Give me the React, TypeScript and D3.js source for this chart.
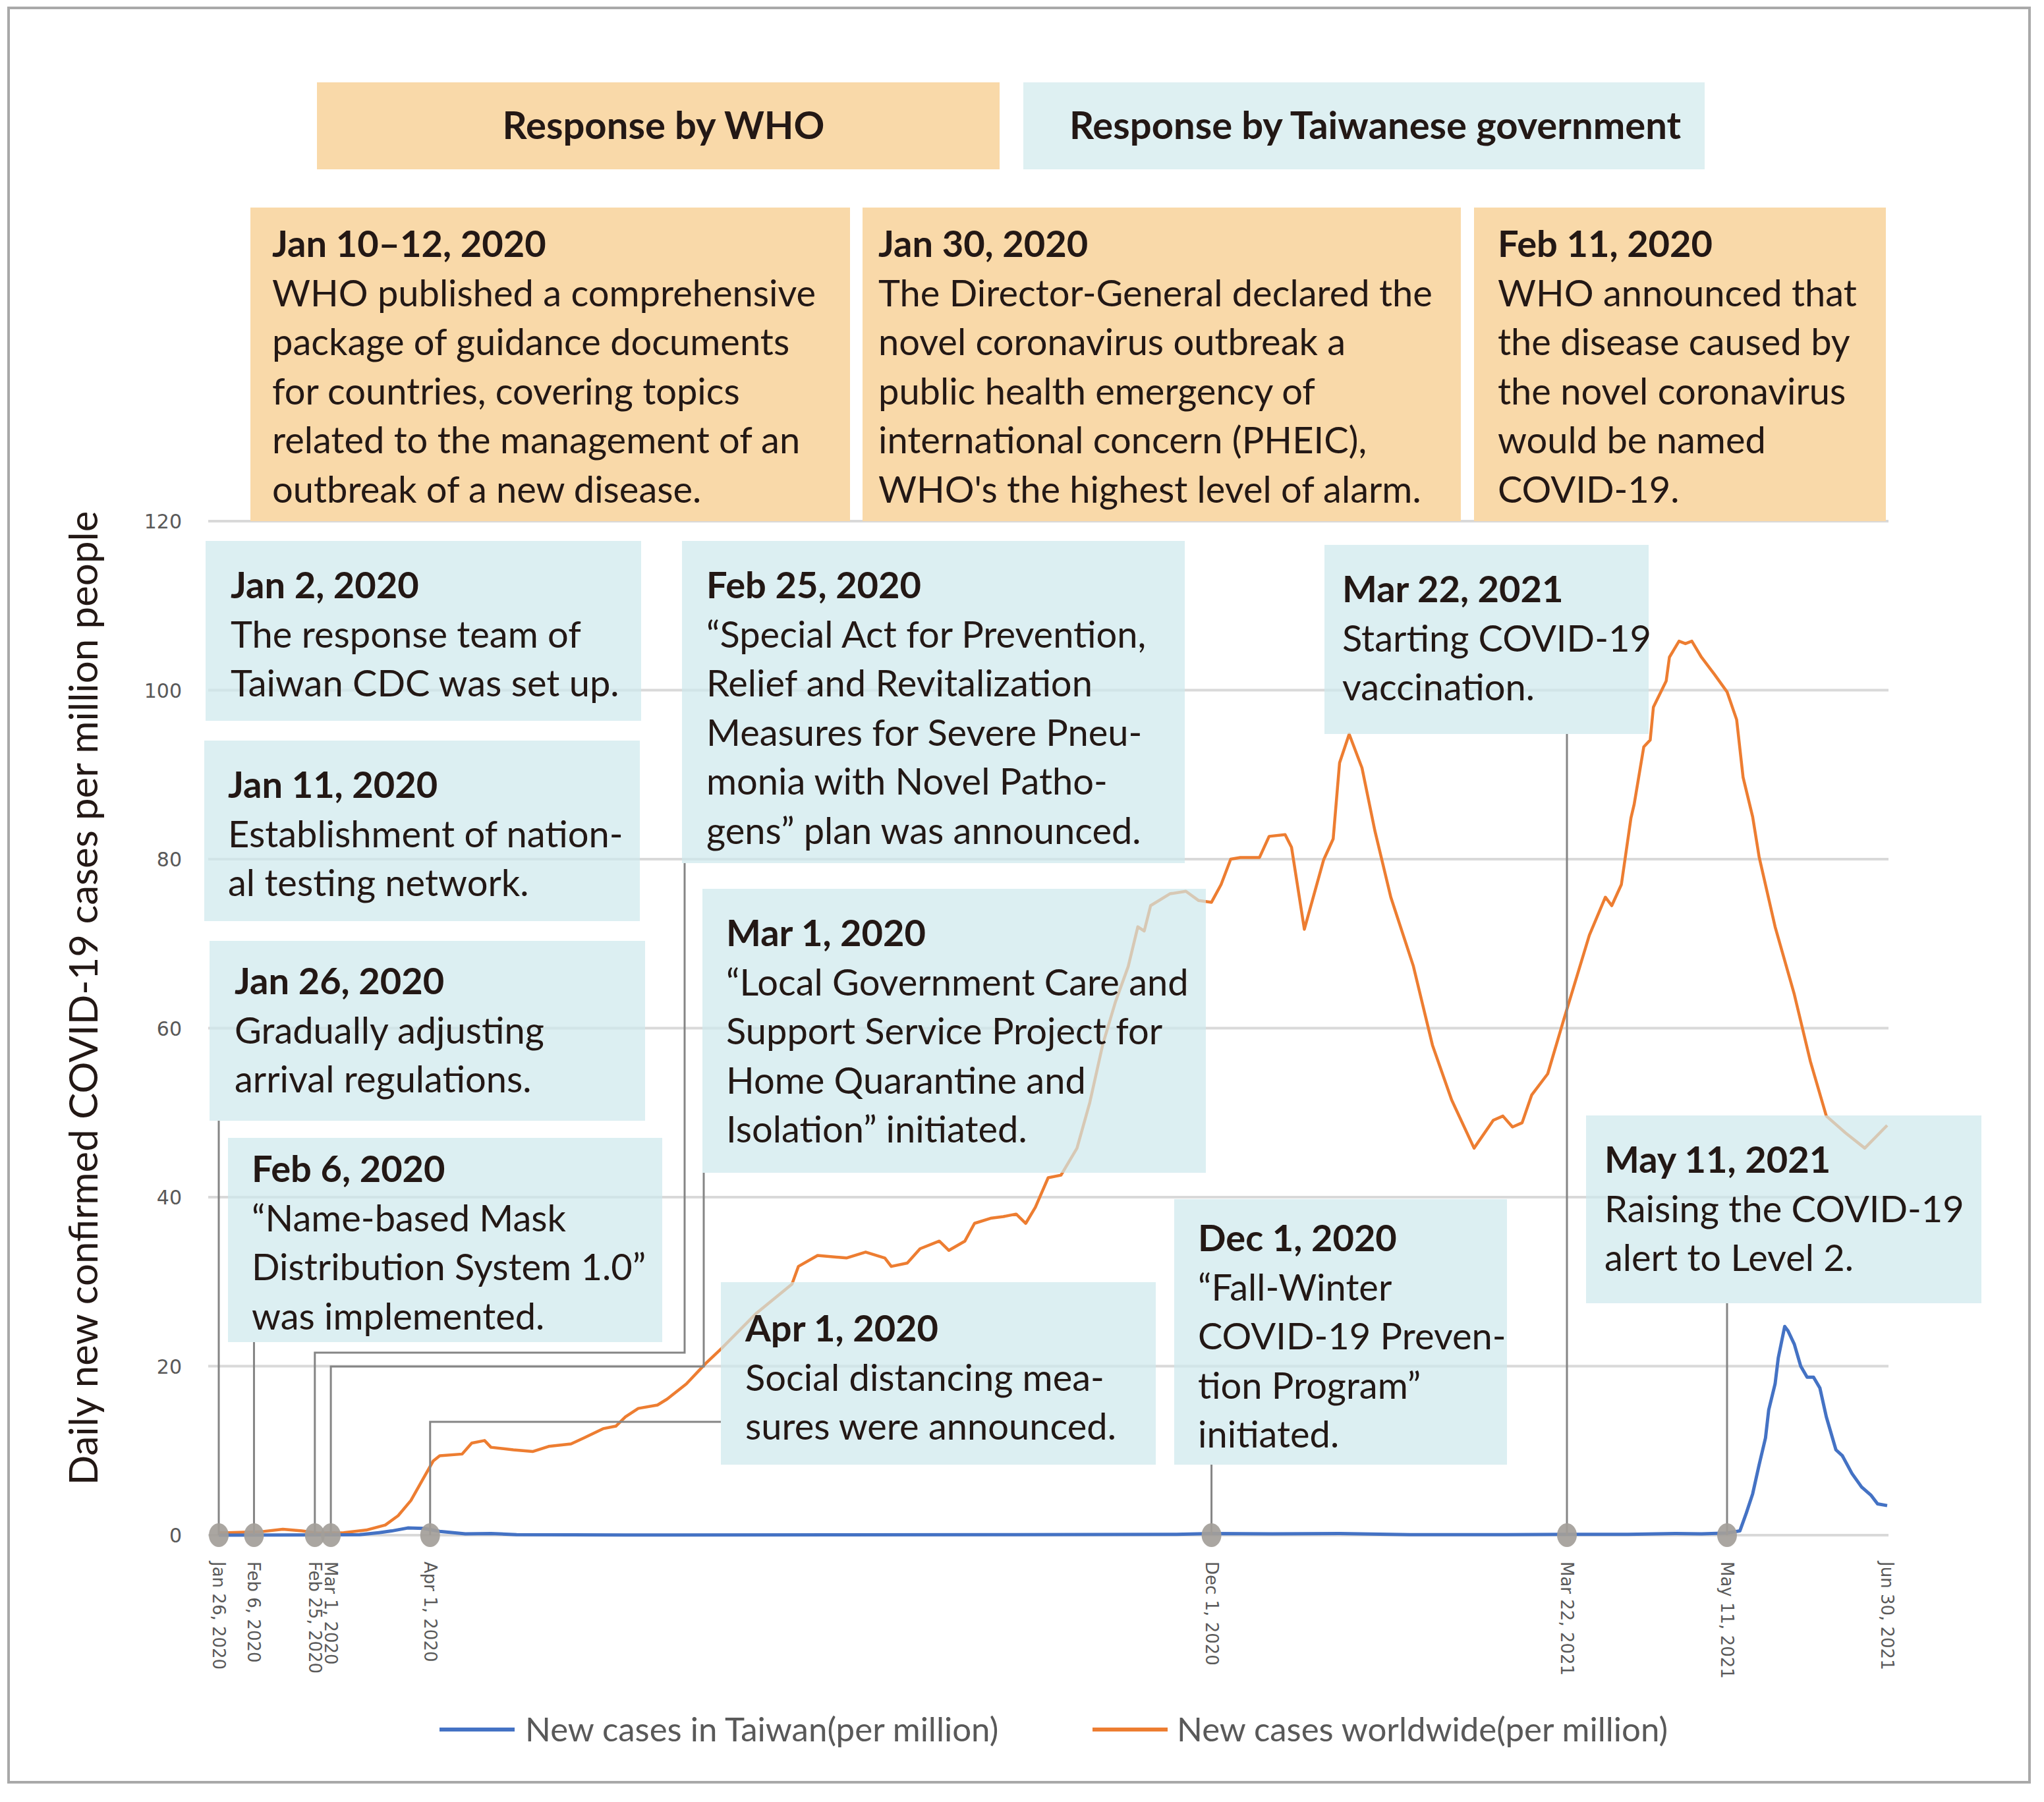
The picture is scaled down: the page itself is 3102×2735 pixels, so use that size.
import React from "react";
import * as d3 from "d3";

// ---------- DATA ----------
const worldDates = [
  "2020-01-26","2020-01-29","2020-02-08","2020-02-15","2020-02-21","2020-02-26","2020-03-05","2020-03-12",
  "2020-03-18","2020-03-22","2020-03-26","2020-03-30","2020-04-02","2020-04-04","2020-04-11","2020-04-14",
  "2020-04-18","2020-04-20","2020-04-27","2020-05-03","2020-05-08","2020-05-15","2020-05-19","2020-05-25",
  "2020-05-29","2020-06-01","2020-06-05","2020-06-11","2020-06-14","2020-06-20","2020-06-26","2020-07-01",
  "2020-07-12","2020-07-23","2020-07-25","2020-07-31","2020-08-09","2020-08-15","2020-08-21","2020-08-23",
  "2020-08-28","2020-09-01","2020-09-07","2020-09-10","2020-09-15","2020-09-18","2020-09-23","2020-09-27",
  "2020-10-01","2020-10-04","2020-10-07","2020-10-11","2020-10-15","2020-10-20","2020-10-24","2020-10-28",
  "2020-11-01","2020-11-05","2020-11-08","2020-11-10","2020-11-12","2020-11-18","2020-11-23","2020-11-27",
  "2020-12-01","2020-12-04","2020-12-07","2020-12-10","2020-12-16","2020-12-19","2020-12-24","2020-12-26",
  "2020-12-30","2021-01-05","2021-01-08","2021-01-10","2021-01-13","2021-01-17","2021-01-21","2021-01-26",
  "2021-02-02","2021-02-08","2021-02-14","2021-02-21","2021-02-27","2021-03-02","2021-03-05","2021-03-08",
  "2021-03-11","2021-03-16","2021-03-21","2021-03-29","2021-04-03","2021-04-05","2021-04-08","2021-04-11",
  "2021-04-12","2021-04-15","2021-04-17","2021-04-18","2021-04-22","2021-04-23","2021-04-26","2021-04-28",
  "2021-04-30","2021-05-03","2021-05-07","2021-05-11","2021-05-14","2021-05-16","2021-05-19","2021-05-21",
  "2021-05-26","2021-06-01","2021-06-06","2021-06-11","2021-06-17","2021-06-23","2021-06-30"
];
const worldValues = [
  0.3,0.3,0.4,0.7,0.5,0.25,0.3,0.6,
  1.2,2.3,4.1,6.8,8.8,9.4,9.6,10.9,
  11.2,10.4,10.1,9.9,10.5,10.8,11.5,12.6,
  12.9,14.0,15.0,15.4,16.1,17.9,20.3,22.1,
  26.3,29.7,31.8,33.1,32.8,33.5,32.8,31.8,
  32.2,33.9,34.8,33.7,34.8,36.9,37.5,37.7,
  38.0,36.9,38.8,42.3,42.6,45.8,51.2,58.0,
  63.1,67.3,72.0,71.5,74.5,75.9,76.2,75.1,
  74.9,77.0,80.0,80.2,80.2,82.7,82.9,81.4,
  71.7,79.9,82.4,91.4,94.8,90.8,83.4,75.5,
  67.4,58.0,51.5,45.8,49.1,49.6,48.3,48.8,
  52.1,54.6,61.0,71.0,75.5,74.5,77.0,84.9,
  86.5,93.3,94.1,98.0,101.1,103.9,105.8,105.5,
  105.8,103.9,101.9,99.8,96.5,89.7,85.0,80.3,
  72.0,64.0,56.1,49.6,47.6,45.8,48.5
];

const taiwanDates = [
  "2020-01-26","2020-03-10","2020-03-16","2020-03-20","2020-03-25","2020-03-30","2020-04-04","2020-04-12",
  "2020-04-20","2020-04-28","2020-06-01","2020-10-01","2020-11-20","2020-12-01","2020-12-20","2021-01-10",
  "2021-02-01","2021-03-01","2021-03-22","2021-04-10","2021-04-25","2021-05-03","2021-05-11","2021-05-15",
  "2021-05-17","2021-05-19","2021-05-21","2021-05-23","2021-05-24","2021-05-26","2021-05-27","2021-05-29",
  "2021-05-30","2021-06-01","2021-06-03","2021-06-05","2021-06-07","2021-06-09","2021-06-11","2021-06-14",
  "2021-06-16","2021-06-19","2021-06-22","2021-06-25","2021-06-27","2021-06-30"
];
const taiwanValues = [
  0,0.05,0.3,0.5,0.85,0.8,0.45,0.15,
  0.2,0.05,0.02,0.05,0.1,0.2,0.15,0.2,
  0.05,0.05,0.1,0.1,0.2,0.15,0.25,0.5,
  2.6,4.9,8.3,11.5,14.8,17.9,21,24.7,
  24.2,22.6,20,18.7,18.7,17.4,14,10.1,
  9.4,7.3,5.7,4.7,3.7,3.5
];

const yTicks = [0, 20, 40, 60, 80, 100, 120];
const eventDates = ["2020-01-26","2020-02-06","2020-02-25","2020-03-01","2020-04-01","2020-12-01","2021-03-22","2021-05-11"];
const xLabelDates = [...eventDates, "2021-06-30"];
const xLabels = ["Jan 26, 2020","Feb 6, 2020","Feb 25, 2020","Mar 1, 2020","Apr 1, 2020","Dec 1, 2020","Mar 22, 2021","May 11, 2021","Jun 30, 2021"];

const seriesNames = ["New cases in Taiwan(per million)", "New cases worldwide(per million)"];
const headerTitles = ["Response by WHO", "Response by Taiwanese government"];

const whoTitles = ["Jan 10–12, 2020", "Jan 30, 2020", "Feb 11, 2020"];
const whoLines = [
  ["WHO published a comprehensive","package of guidance documents","for countries, covering topics","related to the management of an","outbreak of a new disease."],
  ["The Director-General declared the","novel coronavirus outbreak a","public health emergency of","international concern (PHEIC),","WHO's the highest level of alarm."],
  ["WHO announced that","the disease caused by","the novel coronavirus","would be named","COVID-19."],
];

const twTitles = ["Jan 2, 2020","Jan 11, 2020","Jan 26, 2020","Feb 6, 2020","Feb 25, 2020","Mar 1, 2020","Apr 1, 2020","Dec 1, 2020","Mar 22, 2021","May 11, 2021"];
const twLines = [
  ["The response team of","Taiwan CDC was set up."],
  ["Establishment of nation-","al testing network."],
  ["Gradually adjusting","arrival regulations."],
  ["“Name-based Mask","Distribution System 1.0”","was implemented."],
  ["“Special Act for Prevention,","Relief and Revitalization","Measures for Severe Pneu-","monia with Novel Patho-","gens” plan was announced."],
  ["“Local Government Care and","Support Service Project for","Home Quarantine and","Isolation” initiated."],
  ["Social distancing mea-","sures were announced."],
  ["“Fall-Winter","COVID-19 Preven-","tion Program”","initiated."],
  ["Starting COVID-19","vaccination."],
  ["Raising the COVID-19","alert to Level 2."],
];

// ---------- LAYOUT ----------
const W = 3102, H = 2735;
const FONT = "Lato, 'Open Sans', sans-serif";
const TICKFONT = "'DejaVu Sans', sans-serif";
const FS = 56;
const LH = 74.5;
const TEXT = "#231815";
const PEACH = "#f9d9a9";
const BLUE_BOX = "#cde8ec";

// box layout: [x, y, w, h, textX, titleCenterY]
const whoLayout = [
  [380, 315, 910, 476, 413, 370],
  [1309, 315, 908, 476, 1333, 370],
  [2237, 315, 625, 476, 2273, 370],
];
const twLayout = [
  [312, 821, 661, 273, 350, 888],
  [310, 1124, 661, 274, 346, 1191],
  [318, 1428, 661, 273, 356, 1489],
  [346, 1727, 659, 310, 382, 1774],
  [1035, 821, 763, 489, 1072, 888],
  [1066, 1349, 764, 431, 1102, 1416],
  [1094, 1946, 660, 277, 1131, 2016],
  [1782, 1820, 505, 403, 1818, 1879],
  [2010, 827, 492, 287, 2037, 894],
  [2407, 1693, 600, 285, 2435, 1760],
];

const parse = d3.utcParse("%Y-%m-%d");

function Note({ lay, title, lines, fill, opacity }: any) {
  const [x, y, w, h, tx, ty] = lay;
  const off = FS * 0.36;
  return (
    <g>
      <rect x={x} y={y} width={w} height={h} fill={fill} fillOpacity={opacity} />
      <text x={tx} y={ty + off} fontFamily={FONT} fontSize={FS} fontWeight={700} fill={TEXT}>{title}</text>
      {lines.map((l: string, i: number) => (
        <text key={i} x={tx} y={ty + off + LH * (i + 1)} fontFamily={FONT} fontSize={FS} fill={TEXT}>{l}</text>
      ))}
    </g>
  );
}

export default function App() {
  const x = d3.scaleUtc().domain([parse("2020-01-26")!, parse("2021-06-30")!]).range([332, 2864]);
  const y = d3.scaleLinear().domain([0, 120]).range([2330, 791]);
  const line = d3.line<[Date, number]>().x((d) => x(d[0])).y((d) => y(d[1]));
  const world: [Date, number][] = worldDates.map((d, i) => [parse(d)!, worldValues[i]]);
  const taiwan: [Date, number][] = taiwanDates.map((d, i) => [parse(d)!, taiwanValues[i]]);
  const ex = eventDates.map((d) => x(parse(d)!));
  const y0 = y(0);

  // leader paths from event dots to boxes
  const leaders = [
    `M${ex[0]},${y0}V1701`,
    `M${ex[1]},${y0}V2037`,
    `M${ex[2]},${y0}V2053H1039V1310`,
    `M${ex[3]},${y0}V2074H1068V1780`,
    `M${ex[4]},${y0}V2158H1094`,
    `M${ex[5]},${y0}V2223`,
    `M${ex[6]},${y0}V1114`,
    `M${ex[7]},${y0}V1978`,
  ];

  return (
    <svg width={W} height={H} style={{ position: "absolute", left: 0, top: 0, background: "#fff" }}>
      <rect x={0} y={0} width={W} height={H} fill="#fff" />
      <rect x={13} y={12} width={3067} height={2693} fill="none" stroke="#a9a9a9" strokeWidth={4} />

      {/* grid */}
      {yTicks.map((t) => (
        <g key={t}>
          <line x1={316} x2={2866} y1={y(t)} y2={y(t)} stroke="#d9d9d9" strokeWidth={4} />
          <text x={276} y={y(t) + 11} textAnchor="end" fontFamily={TICKFONT} fontSize={30} fill="#595959">{t}</text>
        </g>
      ))}

      {/* series */}
      <path d={line(world)!} fill="none" stroke="#ed7d31" strokeWidth={4.5} strokeLinejoin="round" />
      <path d={line(taiwan)!} fill="none" stroke="#4472c4" strokeWidth={5} strokeLinejoin="round" />

      {/* headers */}
      <rect x={481} y={125} width={1036} height={132} fill={PEACH} />
      <text x={1007} y={190 + 21} textAnchor="middle" fontFamily={FONT} fontSize={58} fontWeight={700} fill={TEXT}>{headerTitles[0]}</text>
      <rect x={1553} y={125} width={1034} height={132} fill="#def0f2" />
      <text x={2087} y={190 + 21} textAnchor="middle" fontFamily={FONT} fontSize={58} fontWeight={700} fill={TEXT}>{headerTitles[1]}</text>

      {/* WHO notes */}
      {whoLayout.map((lay, i) => (
        <Note key={i} lay={lay} title={whoTitles[i]} lines={whoLines[i]} fill={PEACH} opacity={1} />
      ))}
      {/* Taiwan notes */}
      {twLayout.map((lay, i) => (
        <Note key={i} lay={lay} title={twTitles[i]} lines={twLines[i]} fill={BLUE_BOX} opacity={0.7} />
      ))}

      {/* leaders and dots */}
      {leaders.map((p, i) => (
        <path key={i} d={p} fill="none" stroke="#858585" strokeWidth={3} />
      ))}
      {ex.map((cx, i) => (
        <ellipse key={i} cx={cx} cy={y0} rx={15} ry={18} fill="#a39e99" fillOpacity={0.92} />
      ))}

      {/* x labels */}
      {xLabelDates.map((d, i) => {
        const lx = x(parse(d)!);
        return (
          <text key={i} transform={`translate(${lx},2370) rotate(90)`} dy={9} fontFamily={TICKFONT} fontSize={26} fill="#595959">{xLabels[i]}</text>
        );
      })}

      {/* y title */}
      <text transform="translate(148,1515) rotate(-90)" textAnchor="middle" fontFamily={FONT} fontSize={60} fill={TEXT}>
        Daily new confirmed COVID-19 cases per million people
      </text>

      {/* legend */}
      <line x1={667} x2={781} y1={2625} y2={2625} stroke="#4472c4" strokeWidth={6} />
      <text x={797} y={2643} fontFamily={FONT} fontSize={51} fill="#595959">{seriesNames[0]}</text>
      <line x1={1658} x2={1772} y1={2625} y2={2625} stroke="#ed7d31" strokeWidth={6} />
      <text x={1786} y={2643} fontFamily={FONT} fontSize={51} fill="#595959">{seriesNames[1]}</text>
    </svg>
  );
}
